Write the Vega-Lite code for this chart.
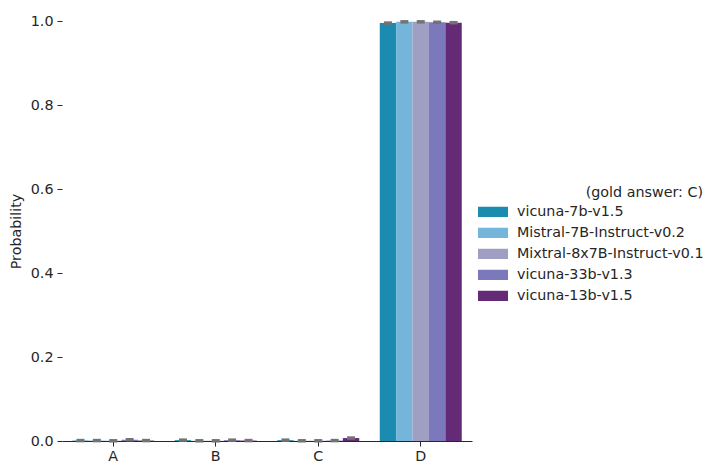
{
  "$schema": "https://vega.github.io/schema/vega-lite/v6.json",
  "autosize": "none",
  "width": 410,
  "height": 420,
  "padding": {"left": 62, "top": 21, "right": 232, "bottom": 22},
  "background": "white",
  "config": {
    "font": "DejaVu Sans",
    "view": {"stroke": null},
    "axis": {"labelFont": "DejaVu Sans", "titleFont": "DejaVu Sans", "labelFontSize": 14.3, "titleFontSize": 14.3, "titleFontWeight": "normal", "labelColor": "#262626", "titleColor": "#262626", "tickColor": "#262626", "domainColor": "#262626", "grid": false},
    "legend": {"labelFont": "DejaVu Sans", "titleFont": "DejaVu Sans"}
  },
  "data": {
    "values": [
      {"answer": "A", "model": "vicuna-7b-v1.5", "p": 0.001},
      {"answer": "A", "model": "Mistral-7B-Instruct-v0.2", "p": 0.001},
      {"answer": "A", "model": "Mixtral-8x7B-Instruct-v0.1", "p": 0.0005},
      {"answer": "A", "model": "vicuna-33b-v1.3", "p": 0.003},
      {"answer": "A", "model": "vicuna-13b-v1.5", "p": 0.001},
      {"answer": "B", "model": "vicuna-7b-v1.5", "p": 0.002},
      {"answer": "B", "model": "Mistral-7B-Instruct-v0.2", "p": 0.0005},
      {"answer": "B", "model": "Mixtral-8x7B-Instruct-v0.1", "p": 0.0005},
      {"answer": "B", "model": "vicuna-33b-v1.3", "p": 0.002},
      {"answer": "B", "model": "vicuna-13b-v1.5", "p": 0.001},
      {"answer": "C", "model": "vicuna-7b-v1.5", "p": 0.002},
      {"answer": "C", "model": "Mistral-7B-Instruct-v0.2", "p": 0.0005},
      {"answer": "C", "model": "Mixtral-8x7B-Instruct-v0.1", "p": 0.0005},
      {"answer": "C", "model": "vicuna-33b-v1.3", "p": 0.001},
      {"answer": "C", "model": "vicuna-13b-v1.5", "p": 0.007},
      {"answer": "D", "model": "vicuna-7b-v1.5", "p": 0.995},
      {"answer": "D", "model": "Mistral-7B-Instruct-v0.2", "p": 0.998},
      {"answer": "D", "model": "Mixtral-8x7B-Instruct-v0.1", "p": 0.998},
      {"answer": "D", "model": "vicuna-33b-v1.3", "p": 0.997},
      {"answer": "D", "model": "vicuna-13b-v1.5", "p": 0.996}
    ]
  },
  "encoding": {
    "x": {"field": "answer", "type": "nominal", "scale": {"paddingInner": 0.2, "paddingOuter": 0.1},
      "axis": {"title": null, "labelAngle": 0, "tickSize": 5, "labelPadding": 3, "domainWidth": 1.2}},
    "xOffset": {"field": "model", "type": "nominal", "sort": ["vicuna-7b-v1.5", "Mistral-7B-Instruct-v0.2", "Mixtral-8x7B-Instruct-v0.1", "vicuna-33b-v1.3", "vicuna-13b-v1.5"], "scale": {"paddingInner": 0, "paddingOuter": 0}},
    "y": {"field": "p", "type": "quantitative", "scale": {"domain": [0, 1.0], "nice": false},
      "axis": {"title": "Probability", "domain": false, "values": [0, 0.2, 0.4, 0.6, 0.8, 1.0], "format": ".1f", "tickSize": 5, "labelPadding": 4, "titlePadding": 7}}
  },
  "layer": [
    {
      "mark": {"type": "bar"},
      "encoding": {
        "color": {"field": "model", "type": "nominal",
          "sort": ["vicuna-7b-v1.5", "Mistral-7B-Instruct-v0.2", "Mixtral-8x7B-Instruct-v0.1", "vicuna-33b-v1.3", "vicuna-13b-v1.5"],
          "scale": {"domain": ["vicuna-7b-v1.5", "Mistral-7B-Instruct-v0.2", "Mixtral-8x7B-Instruct-v0.1", "vicuna-33b-v1.3", "vicuna-13b-v1.5"],
                    "range": ["#1c8bb0", "#76b5da", "#9f9fc4", "#7b78bc", "#652a76"]},
          "legend": {"title": "(gold answer: C)", "orient": "none", "legendX": 416, "legendY": 165,
            "titleFontSize": 14.3, "titleFontWeight": "normal", "titleColor": "#262626", "titleAnchor": "end", "titlePadding": 1,
            "labelFontSize": 14.3, "labelColor": "#262626", "labelOffset": 9, "labelLimit": 400,
            "symbolType": "M-1,-0.34H1V0.34H-1Z", "symbolSize": 900, "symbolStrokeWidth": 0, "symbolOpacity": 1, "rowPadding": 0, "clipHeight": 21}
        }
      }
    },
    {
      "mark": {"type": "tick", "orient": "horizontal", "color": "#737373", "size": 8, "thickness": 3.5, "opacity": 1},
      "encoding": {}
    }
  ]
}
